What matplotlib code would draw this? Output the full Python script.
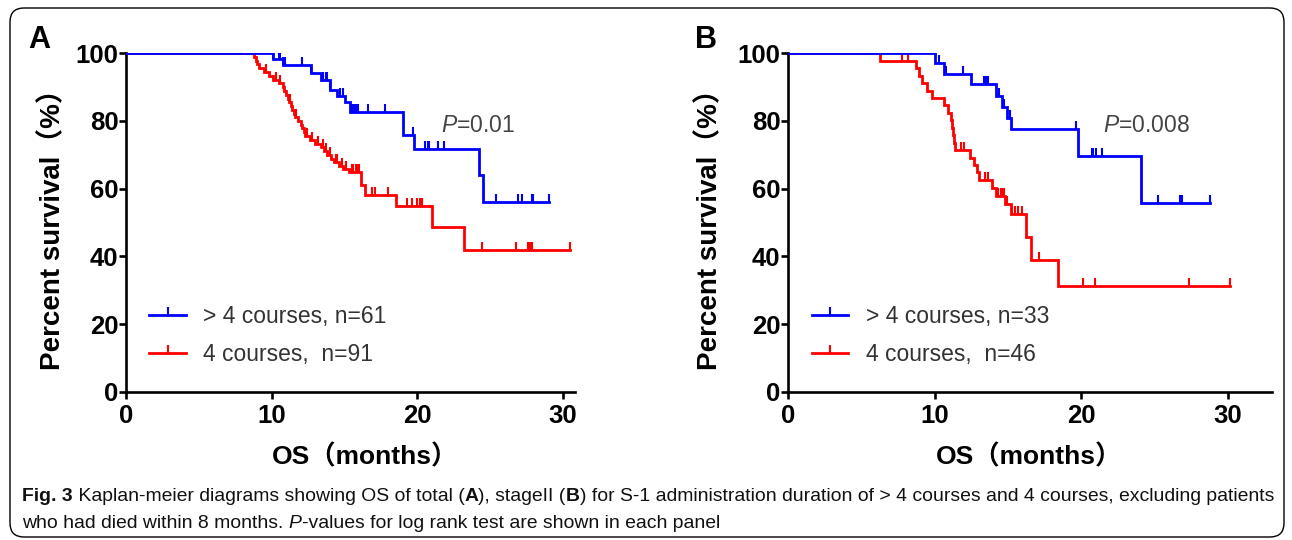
import matplotlib
matplotlib.use("Agg")
import matplotlib.pyplot as plt
import numpy as np
from matplotlib.path import Path
from matplotlib.lines import Line2D
from matplotlib.patches import FancyBboxPatch
from matplotlib.transforms import IdentityTransform
from matplotlib import font_manager

# ---------------- data ----------------
# Panel A (total)
a_blue_t = [10.1, 10.8, 12.7, 13.4, 14.0, 14.5, 15.0, 15.4, 19.0, 19.8, 24.2, 24.5]
a_blue_s = [98.4, 96.6, 94.2, 92.1, 89.2, 87.4, 85.5, 82.7, 75.9, 71.8, 63.9, 56.1]
a_blue_end = 29.05
a_blue_cens = [9.9, 10.1, 10.5, 10.6, 10.8, 10.9, 12.1, 12.7, 13.5, 13.7, 13.8, 14.0,
               14.7, 14.9, 15.5, 15.6, 15.7, 15.8, 15.9, 16.6, 17.8, 19.7, 20.5, 20.7,
               20.8, 21.4, 21.8, 25.4, 26.9, 27.2, 27.85, 27.95, 29.05]

a_red_t = [8.8, 8.9, 9.0, 9.15, 9.45, 9.8, 10.1, 10.5, 10.75, 10.85, 11.0, 11.1, 11.2,
           11.3, 11.4, 11.5, 11.6, 11.8, 12.0, 12.1, 12.2, 12.3, 12.6, 13.0, 13.4, 13.6,
           13.8, 14.1, 14.3, 14.6, 14.9, 15.3, 16.1, 16.4, 18.5, 21.0, 23.2]
a_red_s = [98.9, 97.8, 96.7, 95.6, 94.4, 93.3, 92.2, 91.1, 90.0, 88.9, 87.8, 86.6, 85.5,
           84.4, 83.3, 82.2, 81.1, 80.0, 78.9, 77.8, 76.6, 75.5, 74.4, 73.3, 72.2, 71.1,
           70.0, 68.9, 67.8, 66.7, 65.9, 64.9, 61.2, 58.0, 54.8, 48.7, 41.8]
a_red_end = 30.5
a_red_cens = [8.0, 8.3, 9.6, 10.3, 10.6, 11.25, 11.7, 12.4, 12.8, 13.2, 13.5, 13.7, 14.0,
              14.4, 14.5, 14.8, 15.1, 15.5, 15.6, 15.8, 15.9, 16.0, 16.9, 17.1, 18.0,
              19.3, 19.6, 19.95, 20.2, 20.3, 24.4, 26.8, 27.6, 27.7, 27.85, 30.5]

# Panel B (stage II)
b_blue_t = [10.05, 10.6, 12.5, 14.2, 14.6, 14.9, 15.2, 19.8, 24.05]
b_blue_s = [97.0, 93.9, 90.8, 87.5, 84.2, 81.0, 77.5, 69.6, 55.7]
b_blue_end = 28.8
b_blue_cens = [5.8, 8.05, 10.3, 10.7, 10.8, 11.9, 13.35, 13.5, 13.6, 14.4, 14.75, 15.1,
               15.15, 19.65, 20.7, 20.8, 21.0, 21.4, 25.2, 26.75, 26.85, 28.8]

b_red_t = [6.3, 8.75, 8.95, 9.15, 9.45, 9.8, 10.6, 10.9, 11.1, 11.2, 11.25, 11.3, 11.35,
           12.4, 12.65, 12.85, 13.05, 13.9, 14.2, 14.8, 15.2, 16.2, 16.55, 18.4]
b_red_s = [97.8, 95.6, 93.4, 91.2, 89.0, 86.8, 84.6, 82.4, 80.2, 78.0, 75.8, 73.6, 71.4,
           69.2, 67.0, 64.8, 62.5, 60.2, 57.9, 55.4, 52.6, 45.8, 39.0, 31.2]
b_red_end = 30.15
b_red_cens = [7.8, 8.2, 11.8, 12.0, 13.4, 13.6, 14.3, 14.5, 14.6, 14.7, 14.9, 15.3, 15.5,
              15.7, 15.95, 17.1, 20.1, 20.9, 27.35, 30.15]

yticks = [0, 20, 40, 60, 80, 100]
xticks = [0, 10, 20, 30]
labels_a = ["> 4 courses, n=61", "4 courses,  n=91"]
labels_b = ["> 4 courses, n=33", "4 courses,  n=46"]
p_a = "0.01"
p_b = "0.008"

BLUE = "#0000FF"
RED = "#FF0000"

plt.rcParams["mathtext.fontset"] = "custom"
plt.rcParams["mathtext.rm"] = "Liberation Sans"
plt.rcParams["mathtext.it"] = "Liberation Sans:italic"

W, H = 1292, 540
fig = plt.figure(figsize=(W / 100, H / 100), dpi=100)
fig.patch.set_facecolor("white")

avail = {f.name for f in font_manager.fontManager.ttflist}
MAIN = ["Liberation Sans", "Noto Sans CJK SC", "DejaVu Sans"]
CAPF = "Liberation Sans Narrow" if "Liberation Sans Narrow" in avail else "Liberation Sans"

tick_marker = Path([(0, 0), (0, 1)])


def px_axes(left, right, top, bottom):
    return fig.add_axes([left / W, 1 - bottom / H, (right - left) / W, (bottom - top) / H])


def km(ax, t, s, end, cens, color):
    tt = [0] + list(t) + [end]
    ss = [100] + list(s) + [s[-1]]
    ax.plot(tt, ss, drawstyle="steps-post", color=color, lw=2.0, solid_joinstyle="miter",
            zorder=3)
    tarr = np.array(tt)
    sarr = np.array(ss)
    idx = np.searchsorted(tarr, np.array(cens), side="right") - 1
    ax.plot(cens, sarr[idx], linestyle="none", marker=tick_marker, ms=12, mew=1.5,
            color=color, zorder=3)


def setup(ax, xmax, letter, letter_x, p, p_x, labels, leg_x):
    ax.set_xlim(0, xmax)
    ax.set_ylim(0, 100)
    for sp in ["top", "right"]:
        ax.spines[sp].set_visible(False)
    for sp in ["left", "bottom"]:
        ax.spines[sp].set_linewidth(1.9)
    ax.set_xticks(xticks)
    ax.set_yticks(yticks)
    ax.tick_params(direction="out", length=5, width=1.9)
    for lab in ax.get_xticklabels() + ax.get_yticklabels():
        lab.set_fontfamily(MAIN)
        lab.set_fontweight("bold")
        lab.set_fontsize(18.5)
    ax.tick_params(axis="y", pad=0.5)
    ax.tick_params(axis="x", pad=4)
    ax.set_ylabel("Percent survival（%）", fontsize=20, fontweight="bold", family=MAIN)
    ax.yaxis.set_label_coords(-0.133, 0.5)
    ax.set_xlabel("OS（months）", fontsize=19, fontweight="bold", family=MAIN)
    ax.xaxis.set_label_coords(16.4 / xmax, -0.155)
    ax.text(p_x, 78.8, "$\\it{P}$=" + p, fontsize=16.5, color="#444444", va="center",
            ha="left", family=MAIN)
    fig.text(letter_x / W, 1 - 40 / H, letter, fontsize=22, fontweight="bold",
             family=MAIN, va="center", ha="left")
    handles = [Line2D([0], [0], color=BLUE, lw=2.0, marker=tick_marker, ms=12, mew=1.5),
               Line2D([0], [0], color=RED, lw=2.0, marker=tick_marker, ms=12, mew=1.5)]
    leg = ax.legend(handles, labels, loc="upper left", bbox_to_anchor=(leg_x, 0.256),
                    frameon=False, handlelength=1.6, handletextpad=0.75,
                    labelspacing=0.66, borderpad=0, borderaxespad=0, numpoints=1,
                    prop={"family": MAIN, "size": 16.5})
    for t in leg.get_texts():
        t.set_color("#333333")


axA = px_axes(126, 575, 53.3, 391.7)
km(axA, a_red_t, a_red_s, a_red_end, a_red_cens, RED)
km(axA, a_blue_t, a_blue_s, a_blue_end, a_blue_cens, BLUE)
setup(axA, (575 - 126) / 14.57, "A", 28, p_a, 21.6, labels_a, 0.052)

axB = px_axes(788, 1272, 53.3, 391.7)
km(axB, b_red_t, b_red_s, b_red_end, b_red_cens, RED)
km(axB, b_blue_t, b_blue_s, b_blue_end, b_blue_cens, BLUE)
setup(axB, (1272 - 788) / 14.67, "B", 695, p_b, 21.5, labels_b, 0.049)

# frame
frame = FancyBboxPatch((10, 3), 1274, 529, boxstyle="round,pad=0,rounding_size=14",
                       transform=IdentityTransform(), facecolor="none", edgecolor="black",
                       lw=1.0, zorder=0)
fig.patches.append(frame)

# caption with mixed styles
renderer = fig.canvas.get_renderer()


def width_of(text, size, **kw):
    t1 = fig.text(0, 0, "|" + text + "|", fontsize=size, family=CAPF, **kw)
    t2 = fig.text(0, 0, "||", fontsize=size, family=CAPF, **kw)
    w = t1.get_window_extent(renderer).width - t2.get_window_extent(renderer).width
    t1.remove()
    t2.remove()
    return w


line1 = [("Fig. 3", {"fontweight": "bold"}),
         (" Kaplan-meier diagrams showing OS of total (", {}),
         ("A", {"fontweight": "bold"}),
         ("), stageII (", {}),
         ("B", {"fontweight": "bold"}),
         (") for S-1 administration duration of > 4 courses and 4 courses, excluding patients", {})]
line2 = [("who had died within 8 months. ", {}),
         ("P", {"fontstyle": "italic"}),
         ("-values for log rank test are shown in each panel", {})]

cap_size = 12.5
total = sum(width_of(t, cap_size, **kw) for t, kw in line1)
cap_size = cap_size * (1253 / total)


def draw_runs(parts, x_px, y_px):
    x = x_px
    for text, kw in parts:
        fig.text(x / W, 1 - y_px / H, text, fontsize=cap_size, family=CAPF,
                 va="baseline", ha="left", color="#111111", **kw)
        x += width_of(text, cap_size, **kw)


draw_runs(line1, 22, 501)
draw_runs(line2, 22, 528)

fig.savefig("out.png", dpi=100, facecolor="white")
